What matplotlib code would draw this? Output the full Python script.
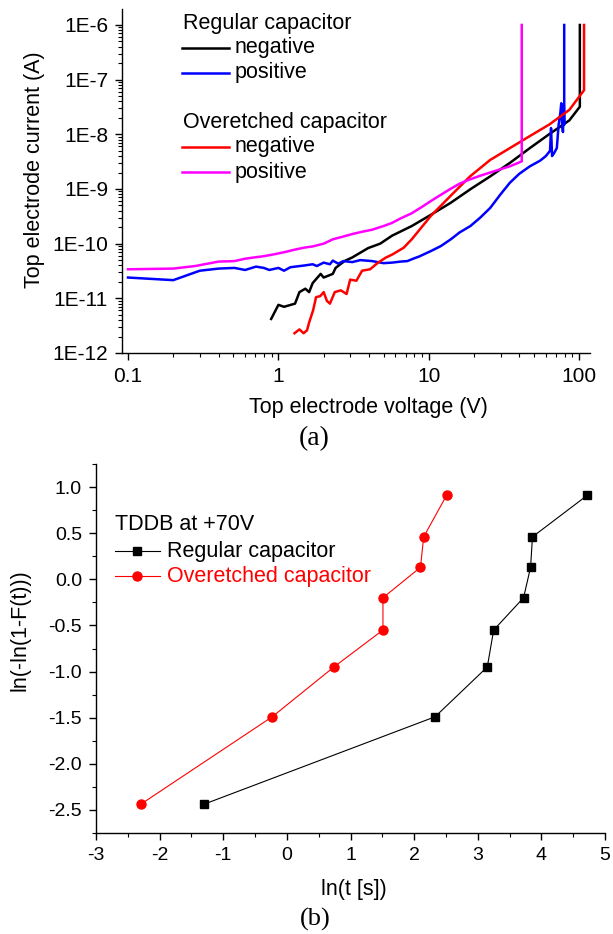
import numpy as np
import matplotlib
matplotlib.use("Agg")
import matplotlib.pyplot as plt
from matplotlib.ticker import FuncFormatter, LogLocator, MultipleLocator

plt.rcParams['font.family'] = ['Liberation Sans', 'DejaVu Sans']
plt.rcParams['axes.unicode_minus'] = False

# (a) I-V curves
reg_neg_v = [0.895, 1.0, 1.09, 1.29, 1.38, 1.51, 1.6, 1.69, 1.91, 2.0, 2.3, 2.4, 2.75, 3.1, 3.95, 4.75,
             5.7, 7.7, 10, 14, 19, 25.6, 34.6, 47, 63, 86, 101, 101]
reg_neg_i = [4.2e-12, 7.6e-12, 7e-12, 8e-12, 1.3e-11, 1.5e-11, 1.3e-11, 1.9e-11, 2.8e-11, 2.4e-11, 2.8e-11,
             3.6e-11, 4.8e-11, 5.6e-11, 8.3e-11, 1e-10, 1.4e-10, 2.1e-10, 3.2e-10, 5.6e-10, 1e-9, 1.7e-9,
             3e-9, 5.6e-9, 1e-8, 1.8e-8, 3.2e-8, 1e-6]

reg_pos_v = [0.1, 0.2, 0.3, 0.4, 0.51, 0.6, 0.71, 0.8, 0.87, 1.0, 1.09, 1.2, 1.29, 1.5, 1.69, 1.8, 2.0,
             2.2, 2.3, 2.5, 2.7, 3.1, 3.5, 4.2, 5.0, 5.7, 6.5, 7.2, 8.0, 8.6, 10.3, 12, 14, 16, 18.9, 22,
             25.6, 30, 34.6, 40, 47, 55, 60, 64, 65, 66, 68, 71, 73, 75, 76, 77, 78, 79, 79.5, 79.5]
reg_pos_i = [2.4e-11, 2.15e-11, 3.2e-11, 3.5e-11, 3.6e-11, 3.3e-11, 3.8e-11, 3.6e-11, 3.3e-11, 3.6e-11,
             3.2e-11, 3.7e-11, 3.8e-11, 4.0e-11, 4.2e-11, 3.9e-11, 4.5e-11, 4.2e-11, 4.9e-11, 4.3e-11,
             4.8e-11, 4.6e-11, 5.0e-11, 4.8e-11, 4.4e-11, 4.5e-11, 4.7e-11, 4.8e-11, 5.4e-11, 5.8e-11,
             7.3e-11, 9.0e-11, 1.2e-10, 1.6e-10, 2.1e-10, 3.0e-10, 4.5e-10, 8e-10, 1.3e-9, 1.9e-9, 2.6e-9,
             3.3e-9, 4.0e-9, 5e-9, 1.3e-8, 4.0e-9, 4.5e-9, 5.6e-9, 1.5e-8, 2.5e-8, 3.7e-8, 1.5e-8, 1.1e-8,
             3.5e-8, 1.5e-8, 1e-6]

ovr_neg_v = [1.28, 1.33, 1.38, 1.47, 1.55, 1.6, 1.7, 1.78, 1.9, 2.0, 2.1, 2.2, 2.37, 2.6, 2.84, 3.0, 3.3,
             3.6, 4.07, 4.6, 5.2, 5.7, 6.8, 7.7, 10.3, 13.9, 18.8, 25.6, 34.6, 47, 63, 86, 107.7, 107.7]
ovr_neg_i = [2.3e-12, 2.5e-12, 2.7e-12, 2.3e-12, 2.6e-12, 3.6e-12, 6e-12, 1.05e-11, 1.1e-11, 1.3e-11,
             9e-12, 8e-12, 1.3e-11, 1.4e-11, 1.2e-11, 2.2e-11, 2.1e-11, 3.2e-11, 3.4e-11, 4.5e-11, 5.6e-11,
             6.3e-11, 8.4e-11, 1.2e-10, 3.2e-10, 7.4e-10, 1.7e-9, 3.4e-9, 5.6e-9, 9.3e-9, 1.5e-8, 2.8e-8,
             6.4e-8, 1e-6]

ovr_pos_v = [0.1, 0.2, 0.28, 0.4, 0.51, 0.6, 0.69, 0.8, 0.94, 1.1, 1.29, 1.5, 1.69, 2.0, 2.3, 2.7, 3.1,
             3.6, 4.2, 5.0, 5.7, 6.5, 7.7, 9.0, 10.3, 12, 13.9, 16, 18.8, 22, 25.6, 30, 34.6, 41.5, 41.5]
ovr_pos_i = [3.4e-11, 3.5e-11, 3.9e-11, 4.7e-11, 4.8e-11, 5.3e-11, 5.6e-11, 5.9e-11, 6.4e-11, 7.0e-11,
             7.8e-11, 8.5e-11, 8.9e-11, 1.0e-10, 1.2e-10, 1.35e-10, 1.5e-10, 1.65e-10, 1.8e-10, 2.1e-10,
             2.4e-10, 2.9e-10, 3.6e-10, 4.7e-10, 6.0e-10, 7.8e-10, 1.0e-9, 1.25e-9, 1.5e-9, 1.75e-9,
             2.0e-9, 2.3e-9, 2.6e-9, 3.2e-9, 1e-6]

# (b) Weibull plot of TDDB at +70V
reg_lnt = [-1.31, 2.33, 3.15, 3.25, 3.72, 3.83, 3.86, 4.72]
reg_w = [-2.44, -1.49, -0.95, -0.55, -0.20, 0.13, 0.46, 0.91]
ovr_lnt = [-2.30, -0.23, 0.74, 1.51, 1.51, 2.10, 2.15, 2.51]
ovr_w = [-2.44, -1.49, -0.95, -0.55, -0.20, 0.13, 0.46, 0.91]

W, H = 613, 934
fig = plt.figure(figsize=(W / 100, H / 100), dpi=100)


def px_axes(left, top, right, bottom):
    return fig.add_axes([left / W, 1 - bottom / H, (right - left) / W, (bottom - top) / H])


def style(ax, size):
    for s in ['top', 'right']:
        ax.spines[s].set_visible(False)
    for s in ['left', 'bottom']:
        ax.spines[s].set_linewidth(1.0)
    ax.tick_params(which='major', direction='out', length=5, width=1.0, labelsize=size, pad=5)
    ax.tick_params(which='minor', direction='out', length=3, width=0.8)


# ---- panel (a)
ax1 = px_axes(122, 9, 590, 353)
ax1.plot(reg_neg_v, reg_neg_i, color='#000000', lw=1.8)
ax1.plot(reg_pos_v, reg_pos_i, color='#0000ff', lw=1.8)
ax1.plot(ovr_neg_v, ovr_neg_i, color='#ff0000', lw=1.8)
ax1.plot(ovr_pos_v, ovr_pos_i, color='#ff00ff', lw=1.8)
ax1.set_xscale('log')
ax1.set_yscale('log')
ax1.set_xlim(0.0912, 118)
ax1.set_ylim(1e-12, 1.96e-6)
ax1.yaxis.set_major_locator(LogLocator(base=10, numticks=20))
ax1.yaxis.set_minor_locator(LogLocator(base=10, subs=np.arange(2, 10), numticks=20))
ax1.xaxis.set_major_formatter(FuncFormatter(lambda v, p: '%g' % v))
ax1.yaxis.set_major_formatter(FuncFormatter(lambda v, p: '1E%d' % int(round(np.log10(v)))))
ax1.yaxis.set_minor_formatter(FuncFormatter(lambda v, p: ''))
ax1.xaxis.set_minor_formatter(FuncFormatter(lambda v, p: ''))
style(ax1, 15)

# legend (a), drawn by hand in axes coords
tr = ax1.transAxes
ax1.text(0.1305, 0.959, 'Regular capacitor', transform=tr, fontsize=15.5, va='center')
ax1.text(0.1305, 0.6715, 'Overetched capacitor', transform=tr, fontsize=15.5, va='center')
for yy, col, lab in [(0.887, '#000000', 'negative'), (0.814, '#0000ff', 'positive'),
                     (0.599, '#ff0000', 'negative'), (0.526, '#ff00ff', 'positive')]:
    ax1.plot([0.128, 0.228], [yy, yy], color=col, lw=1.8, transform=tr)
    ax1.text(0.2415, yy, lab, transform=tr, fontsize=15.5, va='center')

fig.text(368 / W, 1 - 407 / H, 'Top electrode voltage (V)', fontsize=15.5, ha='center', va='center')
fig.text(35 / W, 1 - 170 / H, 'Top electrode current (A)', fontsize=15.5, ha='center', va='center',
         rotation=90)
fig.text(314 / W, 1 - 439 / H, '(a)', fontsize=20, ha='center', va='center', family='Liberation Serif')

# ---- panel (b)
ax2 = px_axes(96, 464, 605, 833)
ax2.plot(reg_lnt, reg_w, color='#000000', lw=0.8, marker='s', ms=5.5, mfc='#000000', mec='#000000')
ax2.plot(ovr_lnt, ovr_w, color='#ff0000', lw=0.8, marker='o', ms=6.5, mfc='#ff0000', mec='#ff0000')
ax2.set_xlim(-3, 5)
ax2.set_ylim(-2.75, 1.25)
ax2.xaxis.set_major_locator(MultipleLocator(1))
ax2.xaxis.set_minor_locator(MultipleLocator(0.5))
ax2.yaxis.set_major_locator(MultipleLocator(0.5))
ax2.yaxis.set_minor_locator(MultipleLocator(0.25))
ax2.xaxis.set_major_formatter(FuncFormatter(lambda v, p: '%d' % round(v)))
ax2.yaxis.set_major_formatter(FuncFormatter(lambda v, p: '%.1f' % v))
style(ax2, 14)

tr2 = ax2.transAxes
ax2.text(0.0373, 0.835, 'TDDB at +70V', transform=tr2, fontsize=15.5, va='center')
for yy, col, mk, ms, lab in [(0.764, '#000000', 's', 5.5, 'Regular capacitor'),
                             (0.696, '#ff0000', 'o', 6.5, 'Overetched capacitor')]:
    ax2.plot([0.0373, 0.126], [yy, yy], color=col, lw=0.8, transform=tr2)
    ax2.plot([0.0815], [yy], color=col, marker=mk, ms=ms, transform=tr2)
    ax2.text(0.139, yy, lab, transform=tr2, fontsize=15.5, va='center', color=col)

fig.text(354 / W, 1 - 889 / H, 'ln(t [s])', fontsize=15.5, ha='center', va='center')
fig.text(20 / W, 1 - 630 / H, 'ln(-ln(1-F(t)))', fontsize=15.5, ha='center', va='center', rotation=90)
fig.text(315 / W, 1 - 919 / H, '(b)', fontsize=19, ha='center', va='center', family='Liberation Serif')

fig.savefig('out.png', dpi=100)
